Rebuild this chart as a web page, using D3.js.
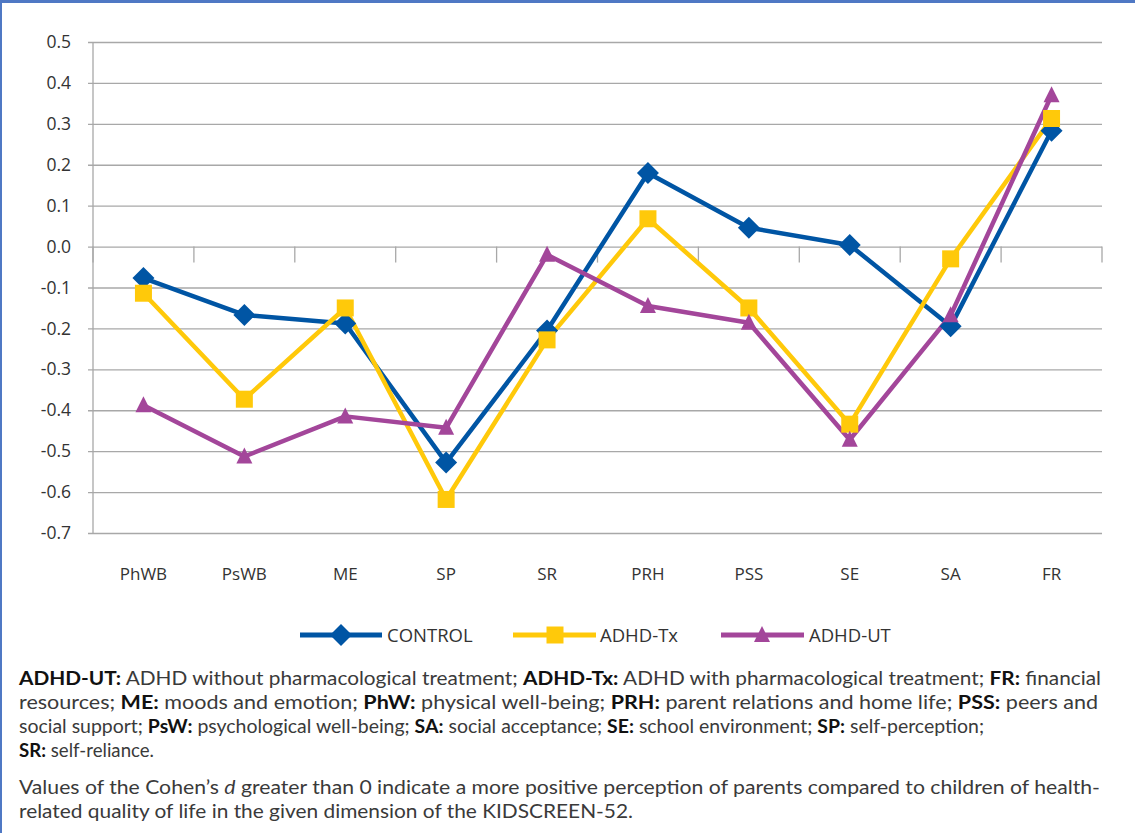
<!DOCTYPE html>
<html>
<head>
<meta charset="utf-8">
<script src="https://cdn.jsdelivr.net/npm/d3@7"></script>
<style>
  html, body { margin: 0; padding: 0; background: #fff; }
  svg { display: block; }
</style>
</head>
<body>
<svg id="chart" width="1135" height="833"></svg>
<script>
// ---- data ----
const categories = ["PhWB", "PsWB", "ME", "SP", "SR", "PRH", "PSS", "SE", "SA", "FR"];
const control = [-0.077, -0.167, -0.188, -0.528, -0.205, 0.180, 0.046, 0.004, -0.195, 0.283];
const adhdTx  = [-0.114, -0.373, -0.150, -0.618, -0.228, 0.068, -0.150, -0.434, -0.030, 0.313];
const adhdUT  = [-0.388, -0.513, -0.415, -0.443, -0.020, -0.145, -0.186, -0.472, -0.168, 0.370];
const seriesNames = ["CONTROL", "ADHD-Tx", "ADHD-UT"];
const yTickValues = [0.5, 0.4, 0.3, 0.2, 0.1, 0.0, -0.1, -0.2, -0.3, -0.4, -0.5, -0.6, -0.7];
const yTickLabels = ["0.5", "0.4", "0.3", "0.2", "0.1", "0.0", "-0.1", "-0.2", "-0.3", "-0.4", "-0.5", "-0.6", "-0.7"];

const footLines = [
  [["b","ADHD-UT:"],["n"," ADHD without pharmacological treatment; "],["b","ADHD-Tx:"],["n"," ADHD with pharmacological treatment; "],["b","FR:"],["n"," financial"]],
  [["n","resources; "],["b","ME:"],["n"," moods and emotion; "],["b","PhW:"],["n"," physical well-being; "],["b","PRH:"],["n"," parent relations and home life; "],["b","PSS:"],["n"," peers and"]],
  [["n","social support; "],["b","PsW:"],["n"," psychological well-being; "],["b","SA:"],["n"," social acceptance; "],["b","SE:"],["n"," school environment; "],["b","SP:"],["n"," self-perception;"]],
  [["b","SR:"],["n"," self-reliance."]],
  [["n","Values of the Cohen\u2019s "],["i","d"],["n"," greater than 0 indicate a more positive perception of parents compared to children of health-"]],
  [["n","related quality of life in the given dimension of the KIDSCREEN-52."]]
];

// ---- layout ----
const svg = d3.select("#chart");
const W = 1135, H = 833;
const plot = { left: 93, right: 1102, top: 42, bottom: 533 };
const colors = ["#0055A4", "#FFC90A", "#A3469A"];
const axisFont = "'Open Sans', 'Noto Sans', sans-serif";

svg.append("rect").attr("width", W).attr("height", H).attr("fill", "#fff");
// frame
svg.append("rect").attr("x", 0).attr("y", 0).attr("width", W).attr("height", 3).attr("fill", "#4F78C4");
svg.append("rect").attr("x", 0).attr("y", 0).attr("width", 2).attr("height", H).attr("fill", "#4F78C4");

const x = d3.scaleBand().domain(categories).range([plot.left, plot.right]).padding(0);
const y = d3.scaleLinear().domain([-0.7, 0.5]).range([plot.bottom, plot.top]);

const gridColor = "#A8A8A8";

// horizontal gridlines with small outward ticks
const yAxis = d3.axisLeft(y)
  .tickValues(yTickValues)
  .tickFormat((d, i) => yTickLabels[i])
  .tickSize(-(plot.right - plot.left))
  .tickPadding(0);
const gy = svg.append("g").attr("transform", `translate(${plot.left},0)`).call(yAxis);
gy.select(".domain").remove();
gy.selectAll(".tick line").attr("stroke", gridColor).attr("stroke-width", 1.3).attr("x1", -5);
gy.selectAll(".tick text")
  .attr("x", -22)
  .attr("fill", "#333")
  .style("font-family", axisFont)
  .style("font-size", "17.5px");

// vertical axis line
svg.append("line")
  .attr("x1", plot.left).attr("x2", plot.left)
  .attr("y1", y(0.5)).attr("y2", y(-0.7))
  .attr("stroke", gridColor).attr("stroke-width", 1.3);

// category axis at y=0 with downward tick marks at band boundaries
const boundaries = d3.range(categories.length + 1).map(i => x.range()[0] + i * x.step());
svg.append("g").selectAll("line").data(boundaries).join("line")
  .attr("x1", d => d).attr("x2", d => d)
  .attr("y1", y(0)).attr("y2", y(0) + 16)
  .attr("stroke", gridColor).attr("stroke-width", 1.3);

// category labels
svg.append("g").selectAll("text").data(categories).join("text")
  .attr("x", d => x(d) + x.bandwidth() / 2)
  .attr("y", 580)
  .attr("text-anchor", "middle")
  .attr("fill", "#333")
  .style("font-family", axisFont)
  .style("font-size", "17px")
  .text(d => d);

// series
const allSeries = [control, adhdTx, adhdUT];
const line = d3.line().x((d, i) => x(categories[i]) + x.bandwidth() / 2).y(d => y(d));

allSeries.forEach((s, k) => {
  svg.append("path").datum(s)
    .attr("d", line)
    .attr("fill", "none")
    .attr("stroke", colors[k])
    .attr("stroke-width", 4.5)
    .attr("stroke-linejoin", "round");
});

const symbols = [
  () => "M0,-11L11,0L0,11L-11,0Z",
  () => "M-8.5,-8.5H8.5V8.5H-8.5Z",
  () => "M0,-9L8,7H-8Z"
];

allSeries.forEach((s, k) => {
  svg.append("g").selectAll("path").data(s).join("path")
    .attr("transform", (d, i) => `translate(${x(categories[i]) + x.bandwidth() / 2},${y(d)})`)
    .attr("d", symbols[k])
    .attr("fill", colors[k]);
});

// legend
const legendItems = [
  { lx1: 300, lx2: 382, mx: 341, tx: 387 },
  { lx1: 513, lx2: 596, mx: 555, tx: 600 },
  { lx1: 721, lx2: 804, mx: 762, tx: 809 }
];
const ly = 635;
legendItems.forEach((it, k) => {
  const g = svg.append("g");
  g.append("line").attr("x1", it.lx1).attr("x2", it.lx2).attr("y1", ly).attr("y2", ly)
    .attr("stroke", colors[k]).attr("stroke-width", 5);
  g.append("path").attr("transform", `translate(${it.mx},${ly})`).attr("d", symbols[k]).attr("fill", colors[k]);
  g.append("text").attr("x", it.tx).attr("y", ly + 7)
    .attr("fill", "#333")
    .style("font-family", axisFont)
    .style("font-size", "18.5px")
    .text(seriesNames[k]);
});

// footnotes
const footY = [685, 709, 733, 757, 794, 818];
const footWidths = [1082, 1079, 965, 135, 1081, 614];
footLines.forEach((parts, i) => {
  const t = svg.append("text")
    .attr("x", 19).attr("y", footY[i])
    .attr("fill", "#3a3a3a")
    .attr("textLength", footWidths[i])
    .attr("lengthAdjust", "spacingAndGlyphs")
    .style("font-family", "Lato, 'Liberation Sans Narrow', sans-serif")
    .style("font-size", "18.5px");
  parts.forEach(([kind, str]) => {
    const ts = t.append("tspan").text(str);
    if (kind === "b") ts.attr("font-weight", "bold").attr("fill", "#111");
    if (kind === "i") ts.attr("font-style", "italic");
  });
});
</script>
</body>
</html>
